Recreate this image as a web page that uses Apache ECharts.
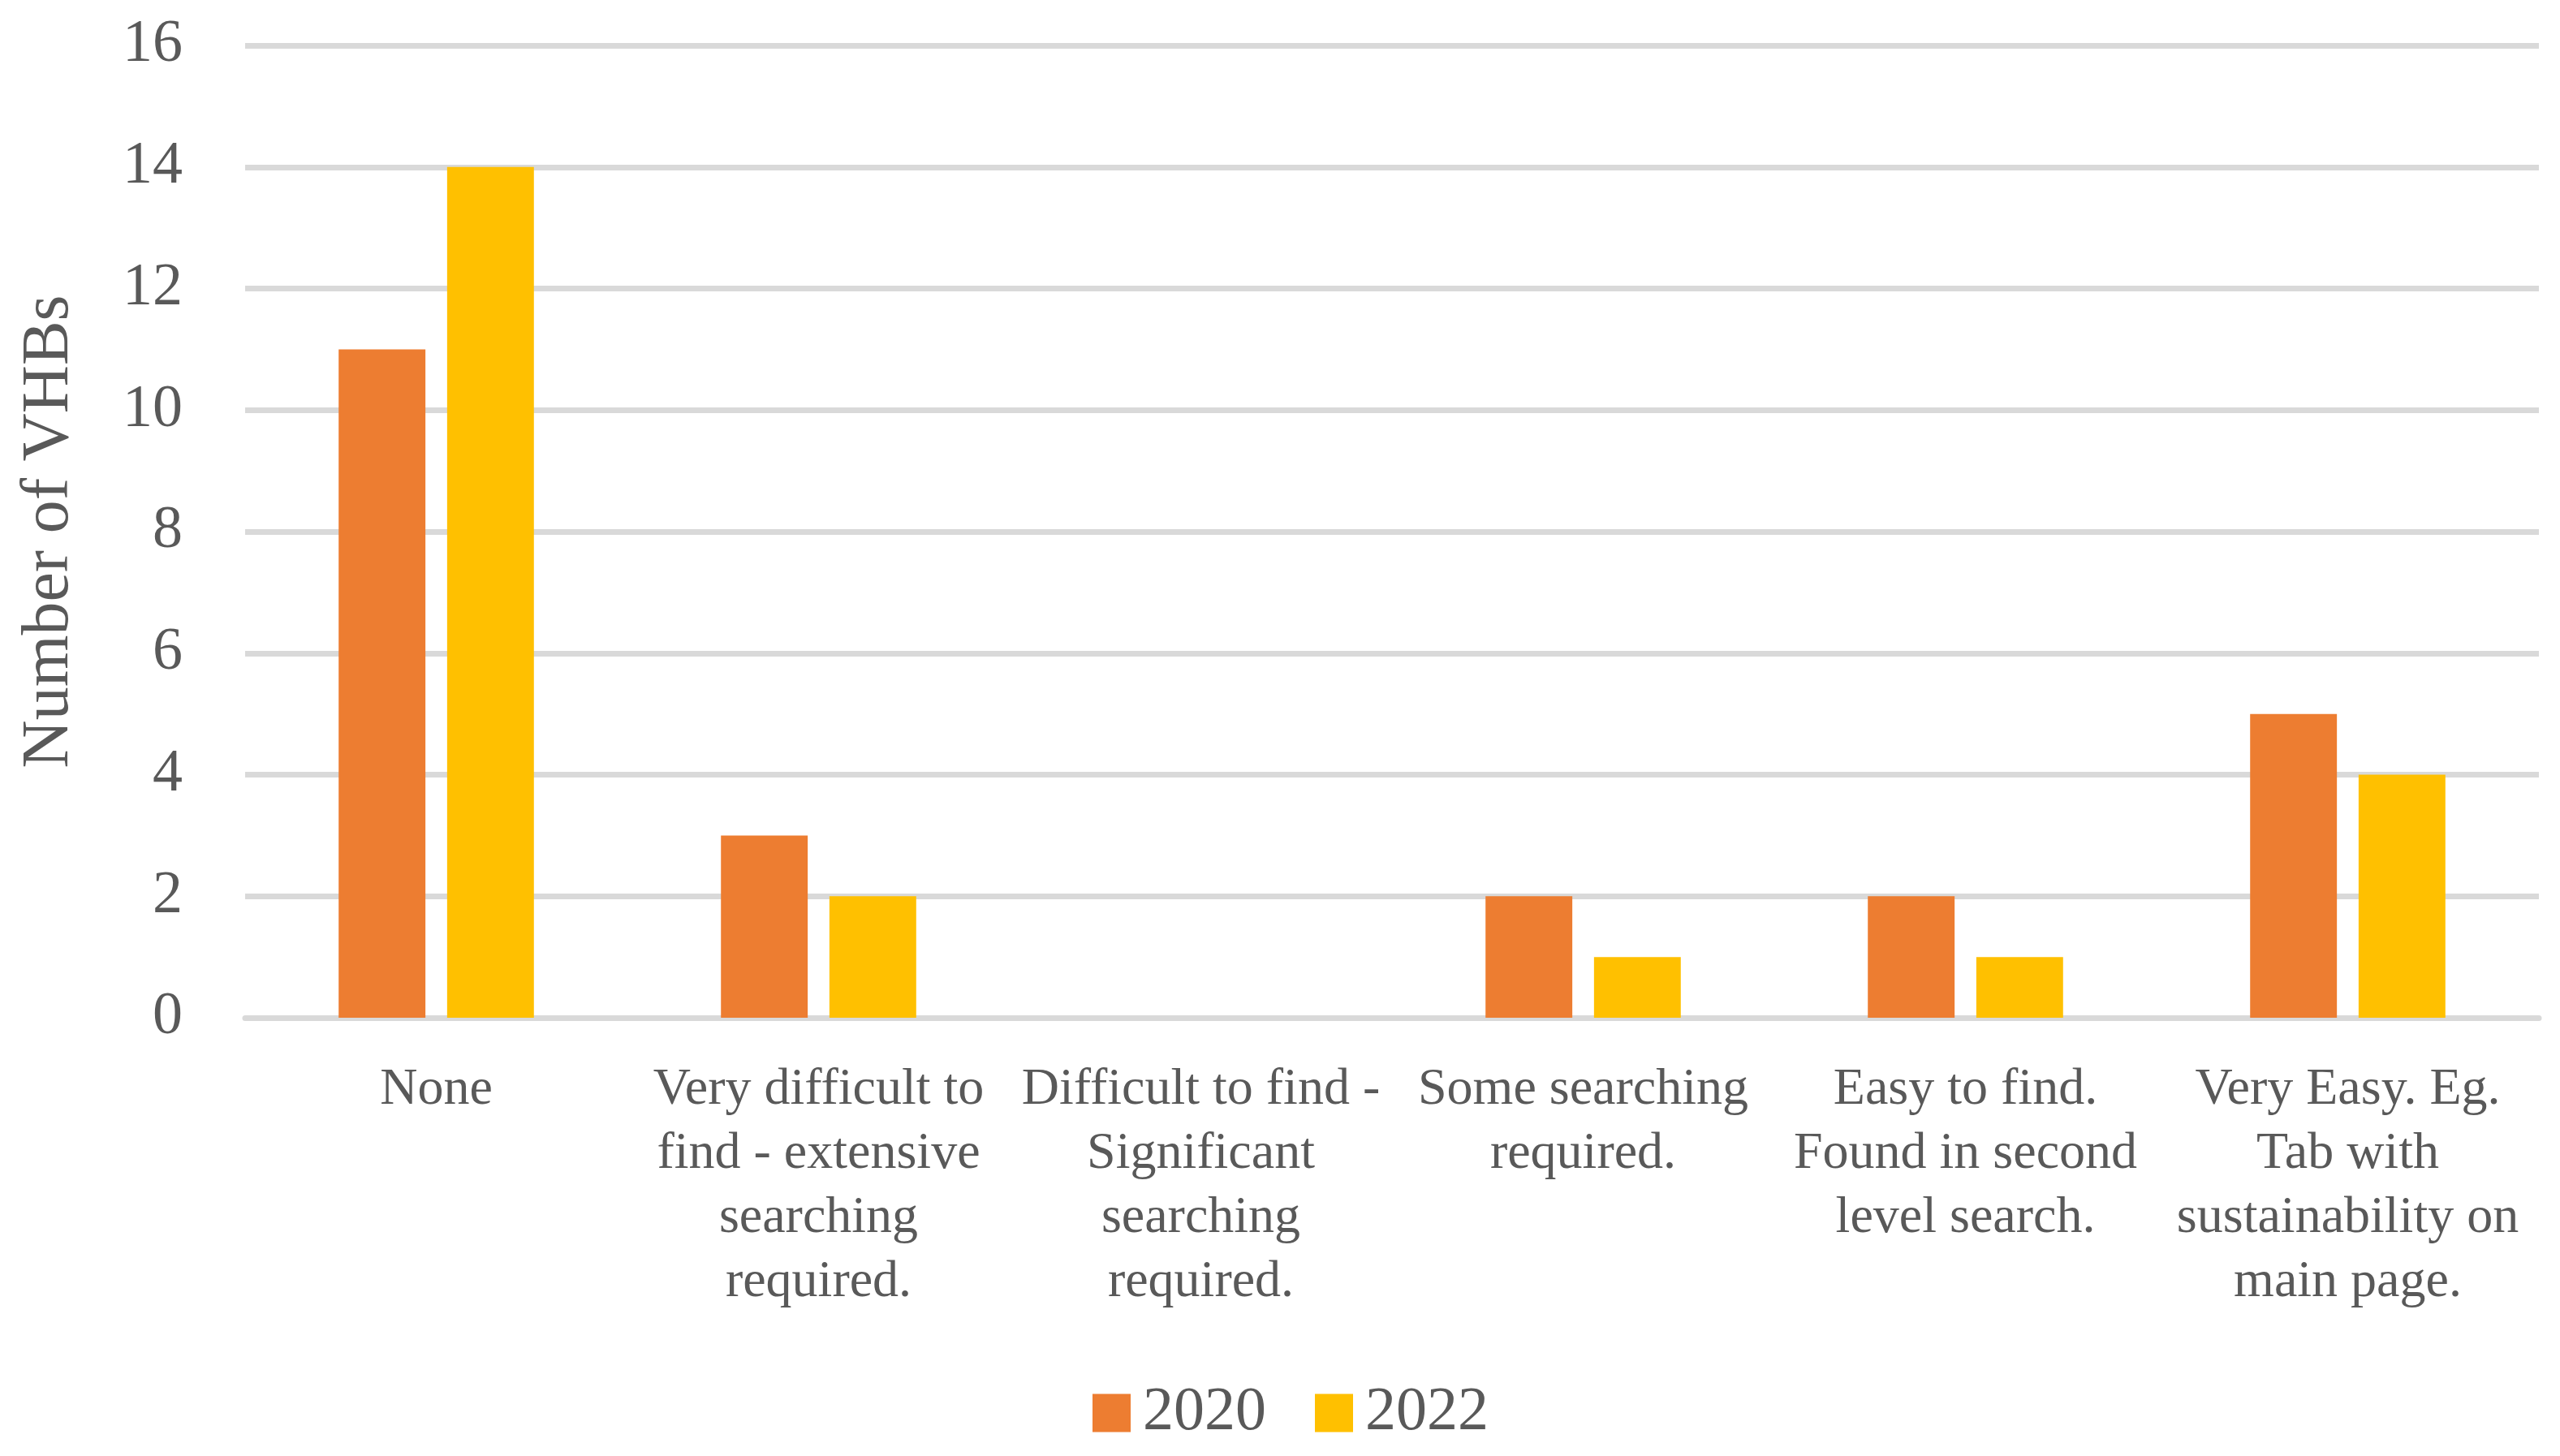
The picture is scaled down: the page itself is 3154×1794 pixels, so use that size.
<!DOCTYPE html>
<html>
<head>
<meta charset="utf-8">
<script src="https://cdn.jsdelivr.net/npm/echarts@6/dist/echarts.min.js"></script>
<style>
html,body{margin:0;padding:0;background:#fff;}
#chart{width:3154px;height:1794px;}
</style>
</head>
<body>
<div id="chart"></div>
<script>
const categories = [
  "None",
  "Very difficult to\nfind - extensive\nsearching\nrequired.",
  "Difficult to find -\nSignificant\nsearching\nrequired.",
  "Some searching\nrequired.",
  "Easy to find.\nFound in second\nlevel search.",
  "Very Easy. Eg.\nTab with\nsustainability on\nmain page."
];
const seriesNames = ["2020", "2022"];
const values2020 = [11, 3, 0, 2, 2, 5];
const values2022 = [14, 2, 0, 1, 1, 4];
const yTicks = [0, 2, 4, 6, 8, 10, 12, 14, 16];

const FONT = "'Liberation Serif', 'DejaVu Serif', serif";
const TXT = '#595959';

const chart = echarts.init(document.getElementById('chart'));
chart.setOption({
  backgroundColor: '#ffffff',
  animation: false,
  textStyle: { fontFamily: FONT, color: TXT },
  grid: { left: 302, right: 26, top: 56, bottom: 540, containLabel: false, outerBoundsMode: 'none' },
  legend: {
    data: seriesNames,
    bottom: 10,
    left: 1341,
    itemWidth: 47,
    itemHeight: 47,
    itemGap: 60,
    icon: 'rect',
    textStyle: { fontFamily: FONT, fontSize: 76, color: TXT, padding: [0, 0, 0, 10] }
  },
  xAxis: {
    type: 'category',
    data: categories,
    axisLine: { show: true, lineStyle: { color: '#D9D9D9', width: 7 } },
    axisTick: { show: false },
    axisLabel: {
      interval: 0,
      fontFamily: FONT,
      fontSize: 64,
      color: TXT,
      lineHeight: 79,
      margin: 50,
      align: 'center',
      verticalAlign: 'top'
    }
  },
  yAxis: {
    type: 'value',
    min: yTicks[0],
    max: yTicks[yTicks.length - 1],
    interval: 2,
    name: 'Number of VHBs',
    nameLocation: 'middle',
    nameRotate: 90,
    nameGap: 200,
    nameTextStyle: { fontFamily: FONT, fontSize: 82, color: TXT },
    axisLine: { show: false },
    axisTick: { show: false },
    axisLabel: { fontFamily: FONT, fontSize: 74, color: TXT, margin: 77 },
    splitLine: { lineStyle: { color: '#D9D9D9', width: 7 } }
  },
  series: [
    {
      name: seriesNames[0],
      type: 'bar',
      data: values2020,
      barWidth: '22.7%',
      barGap: '25%',
      itemStyle: { color: '#ED7D31' }
    },
    {
      name: seriesNames[1],
      type: 'bar',
      data: values2022,
      barWidth: '22.7%',
      barGap: '25%',
      itemStyle: { color: '#FFC000' }
    }
  ]
});
</script>
</body>
</html>
